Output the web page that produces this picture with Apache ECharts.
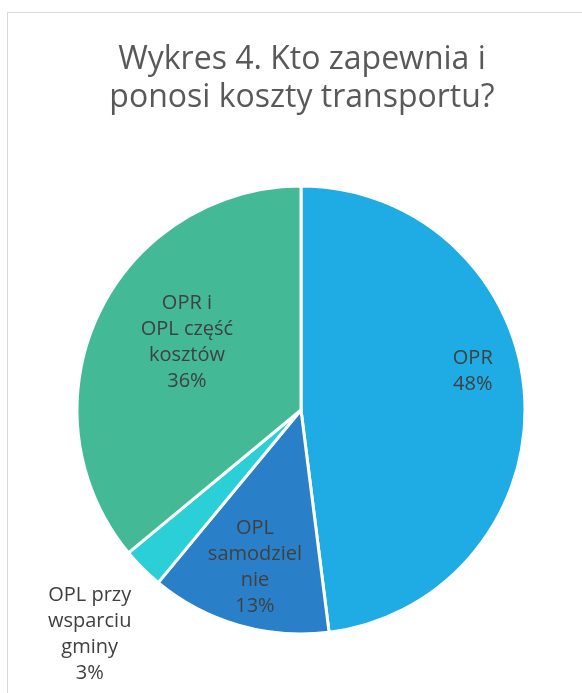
<!DOCTYPE html>
<html><head><meta charset="utf-8">
<script src="https://cdn.jsdelivr.net/npm/echarts@6/dist/echarts.min.js"></script>
<style>
html,body{margin:0;padding:0;background:#fff;}
#wrap{position:relative;width:582px;height:693px;overflow:hidden;}
#frame{position:absolute;left:7px;top:12px;width:700px;height:800px;border-top:1px solid #D9D9D9;border-left:1px solid #D9D9D9;}
#chart{position:absolute;left:0;top:0;width:582px;height:693px;}
</style></head>
<body><div id="wrap"><div id="frame"></div><div id="chart"></div></div>
<script>
const titleText = 'Wykres 4. Kto zapewnia i\nponosi koszty transportu?';
const categories = ['OPR', 'OPL\nsamodziel\nnie', 'OPL przy\nwsparciu\ngminy', 'OPR i\nOPL część\nkosztów'];
const values = [48, 13, 3, 36];
const colors = ['#1FABE3', '#2A80C8', '#2ACFD8', '#43B996'];
const labelOffsets = [[57, -31], [-14, 47], [-130, 143], [-10, -19]];

const chart = echarts.init(document.getElementById('chart'), null, {renderer: 'canvas'});
const fontFam = '"Open Sans", "Noto Sans", sans-serif';
chart.setOption({
  animation: false,
  title: {
    text: titleText,
    left: 297, top: 36, textAlign: 'center',
    textStyle: {fontFamily: fontFam, fontSize: 32, fontWeight: 'normal', color: '#595959', lineHeight: 38}
  },
  series: [{
    type: 'pie',
    center: [301, 410],
    radius: [0, 224],
    startAngle: 90,
    clockwise: true,
    itemStyle: {borderColor: '#fff', borderWidth: 3},
    label: {
      show: true, position: 'inside',
      formatter: p => p.name + '\n' + p.value + '%',
      fontFamily: fontFam, fontSize: 20, color: '#404040', lineHeight: 26, align: 'center'
    },
    labelLine: {show: false},
    emphasis: {disabled: true},
    labelLayout: function (params) {
      const o = labelOffsets[params.dataIndex];
      return {dx: o[0], dy: o[1]};
    },
    data: categories.map((c, i) => ({name: c, value: values[i], itemStyle: {color: colors[i]}}))
  }]
});
</script></body></html>
